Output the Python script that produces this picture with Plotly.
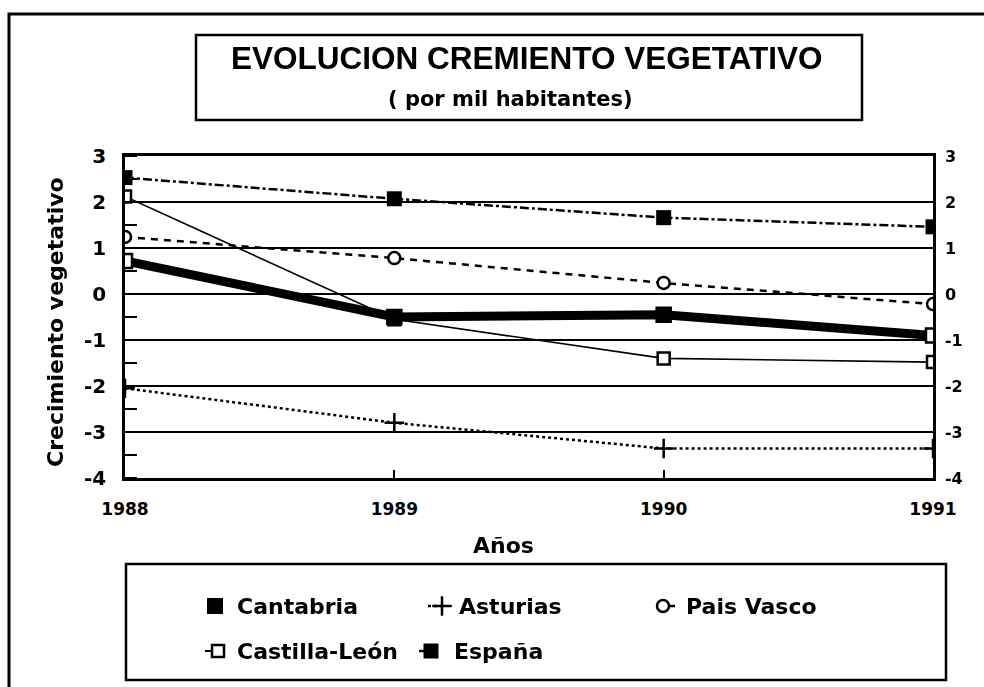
import plotly.graph_objects as go

# ---------------- data ----------------
years = [1988, 1989, 1990, 1991]
cantabria = [0.72, -0.5, -0.45, -0.9]
asturias = [-2.05, -2.8, -3.36, -3.36]
pais_vasco = [1.24, 0.78, 0.24, -0.22]
castilla_leon = [2.12, -0.55, -1.4, -1.48]
espana = [2.53, 2.07, 1.66, 1.46]

y_ticks = [3, 2, 1, 0, -1, -2, -3, -4]
x_ticks = [1988, 1989, 1990, 1991]

title_text = "EVOLUCION CREMIENTO VEGETATIVO"
subtitle_text = "( por mil habitantes)"
x_title = "Años"
y_title = "Crecimiento vegetativo"
legend_names = ["Cantabria", "Asturias", "Pais Vasco", "Castilla-León", "España"]

# ---------------- layout helpers ----------------
W, H = 984, 687
PL, PR, PT, PB = 125, 933, 156, 478  # plot area in pixels
FONT = "DejaVu Sans"
BLACK = "black"

fig = go.Figure()

# Series
fig.add_trace(go.Scatter(x=years, y=asturias, mode="lines+markers", name=legend_names[1],
                         line=dict(color=BLACK, width=2.5, dash="dot"),
                         marker=dict(symbol="cross-thin-open", size=14, color=BLACK, line=dict(color=BLACK, width=2.5)),
                         showlegend=False))
fig.add_trace(go.Scatter(x=years, y=pais_vasco, mode="lines+markers", name=legend_names[2],
                         line=dict(color=BLACK, width=2.5, dash="7px,6px"),
                         marker=dict(symbol="circle", size=12, color="white", line=dict(color=BLACK, width=2.5)),
                         showlegend=False))
fig.add_trace(go.Scatter(x=years, y=castilla_leon, mode="lines+markers", name=legend_names[3],
                         line=dict(color=BLACK, width=1.6),
                         marker=dict(symbol="square", size=12, color="white", line=dict(color=BLACK, width=2.5)),
                         showlegend=False))
fig.add_trace(go.Scatter(x=years, y=espana, mode="lines+markers", name=legend_names[4],
                         line=dict(color=BLACK, width=2.5, dash="dashdot"),
                         marker=dict(symbol="square", size=15, color=BLACK),
                         showlegend=False))
fig.add_trace(go.Scatter(x=years, y=cantabria, mode="lines+markers", name=legend_names[0],
                         line=dict(color=BLACK, width=9),
                         marker=dict(symbol="square", size=14, color=["white", BLACK, BLACK, "white"],
                                     line=dict(color=BLACK, width=2.5)),
                         showlegend=False))
# invisible trace to activate the right-hand axis
fig.add_trace(go.Scatter(x=years, y=espana, yaxis="y2", mode="markers", opacity=0,
                         showlegend=False, hoverinfo="skip"))

# ---------------- decorative overlay (pixel coordinates) ----------------
leg_rows = [606, 651]
leg_items = [
    (205, 215, 0, dict(symbol="square", size=16, color=BLACK), None),
    (428, 442, 0, dict(symbol="cross-thin-open", size=14, color=BLACK, line=dict(color=BLACK, width=2.5)), dict(color=BLACK, width=2.5, dash="dot")),
    (663, 663, 0, dict(symbol="circle", size=12, color="white", line=dict(color=BLACK, width=2.5)), dict(color=BLACK, width=2.5)),
    (205, 218, 1, dict(symbol="square", size=12, color="white", line=dict(color=BLACK, width=2.5)), dict(color=BLACK, width=2)),
    (419, 431, 1, dict(symbol="square", size=15, color=BLACK), dict(color=BLACK, width=2.5)),
]
leg_text_x = [235, 457, 684, 235, 452]
for i, (xs, xm, r, mk, ln) in enumerate(leg_items):
    yv = leg_rows[r]
    if ln is not None and xs != xm:
        fig.add_trace(go.Scatter(x=[xs, xm], y=[yv, yv], xaxis="x3", yaxis="y3", mode="lines",
                                 line=ln, showlegend=False, hoverinfo="skip"))
    if i == 2:
        fig.add_trace(go.Scatter(x=[xm, xm + 12], y=[yv, yv], xaxis="x3", yaxis="y3", mode="lines",
                                 line=dict(color=BLACK, width=2.5), showlegend=False, hoverinfo="skip"))
    fig.add_trace(go.Scatter(x=[xm], y=[yv], xaxis="x3", yaxis="y3", mode="markers",
                             marker=mk, showlegend=False, hoverinfo="skip"))

annotations = [
    dict(text=f"<b>{title_text}</b>", x=527, y=58, font=dict(family="Liberation Sans", size=31.5, color=BLACK)),
    dict(text=f"<b>{subtitle_text}</b>", x=510, y=99, font=dict(family=FONT, size=21, color=BLACK)),
    dict(text=f"<b>{x_title}</b>", x=503, y=545, font=dict(family=FONT, size=22, color=BLACK)),
    dict(text=f"<b>{y_title}</b>", x=55, y=322, textangle=-90, font=dict(family=FONT, size=22, color=BLACK)),
]
for i, name in enumerate(legend_names):
    r = 0 if i < 3 else 1
    annotations.append(dict(text=f"<b>{name}</b>", x=leg_text_x[i], y=leg_rows[r], xanchor="left",
                            font=dict(family=FONT, size=22, color=BLACK)))
for a in annotations:
    a.update(xref="x3", yref="y3", showarrow=False)
    a.setdefault("xanchor", "center")
    a.setdefault("yanchor", "middle")

shapes = [
    dict(type="rect", x0=9, y0=14, x1=1010, y1=720, line=dict(color=BLACK, width=3)),
    dict(type="rect", x0=196, y0=35, x1=862, y1=120, line=dict(color=BLACK, width=2.5)),
    dict(type="rect", x0=126, y0=564, x1=946, y1=680, line=dict(color=BLACK, width=2.5)),
]
for s in shapes:
    s.update(xref="x3", yref="y3", layer="above")

fig.update_layout(
    width=W, height=H,
    margin=dict(l=0, r=0, t=0, b=0, pad=0, autoexpand=False),
    paper_bgcolor="white",
    plot_bgcolor="rgba(0,0,0,0)",
    showlegend=False,
    annotations=annotations,
    shapes=shapes,
    xaxis=dict(domain=[PL / W, PR / W], range=[x_ticks[0], x_ticks[-1]], tickvals=x_ticks,
               ticktext=[f"<b>{t}</b>" for t in x_ticks], automargin=False,
               showgrid=False, zeroline=False, showline=True, linecolor=BLACK, linewidth=2.5, mirror=True,
               ticks="inside", ticklen=8, tickwidth=2, tickcolor=BLACK, ticklabelstandoff=14,
               tickfont=dict(family=FONT, size=17, color=BLACK)),
    yaxis=dict(domain=[1 - PB / H, 1 - PT / H], range=[y_ticks[-1], y_ticks[0]], tickvals=y_ticks,
               ticktext=[f"<b>{t}</b>" for t in y_ticks], automargin=False,
               showgrid=True, gridcolor=BLACK, gridwidth=2, zeroline=True, zerolinecolor=BLACK, zerolinewidth=2,
               showline=True, linecolor=BLACK, linewidth=2.5, ticks="", ticklabelstandoff=12,
               minor=dict(ticks="inside", ticklen=12, tickwidth=2, tickcolor=BLACK, dtick=0.5, tick0=0.5, showgrid=False),
               tickfont=dict(family=FONT, size=20, color=BLACK)),
    yaxis2=dict(overlaying="y", side="right", anchor="x", range=[y_ticks[-1], y_ticks[0]], tickvals=y_ticks,
                ticktext=[f"<b>{t}</b>" for t in y_ticks], automargin=False,
                showgrid=False, zeroline=False, showline=True, linecolor=BLACK, linewidth=2.5,
                ticks="", ticklabelstandoff=6, tickfont=dict(family=FONT, size=16, color=BLACK)),
    xaxis3=dict(domain=[0, 1], range=[0, W], visible=False, fixedrange=True, anchor="y3", automargin=False),
    yaxis3=dict(domain=[0, 1], range=[H, 0], visible=False, fixedrange=True, anchor="x3", automargin=False),
)

fig.write_html("out.html", config={"displayModeBar": False},
               post_script="document.body.style.margin='0';document.body.style.overflow='hidden';")
